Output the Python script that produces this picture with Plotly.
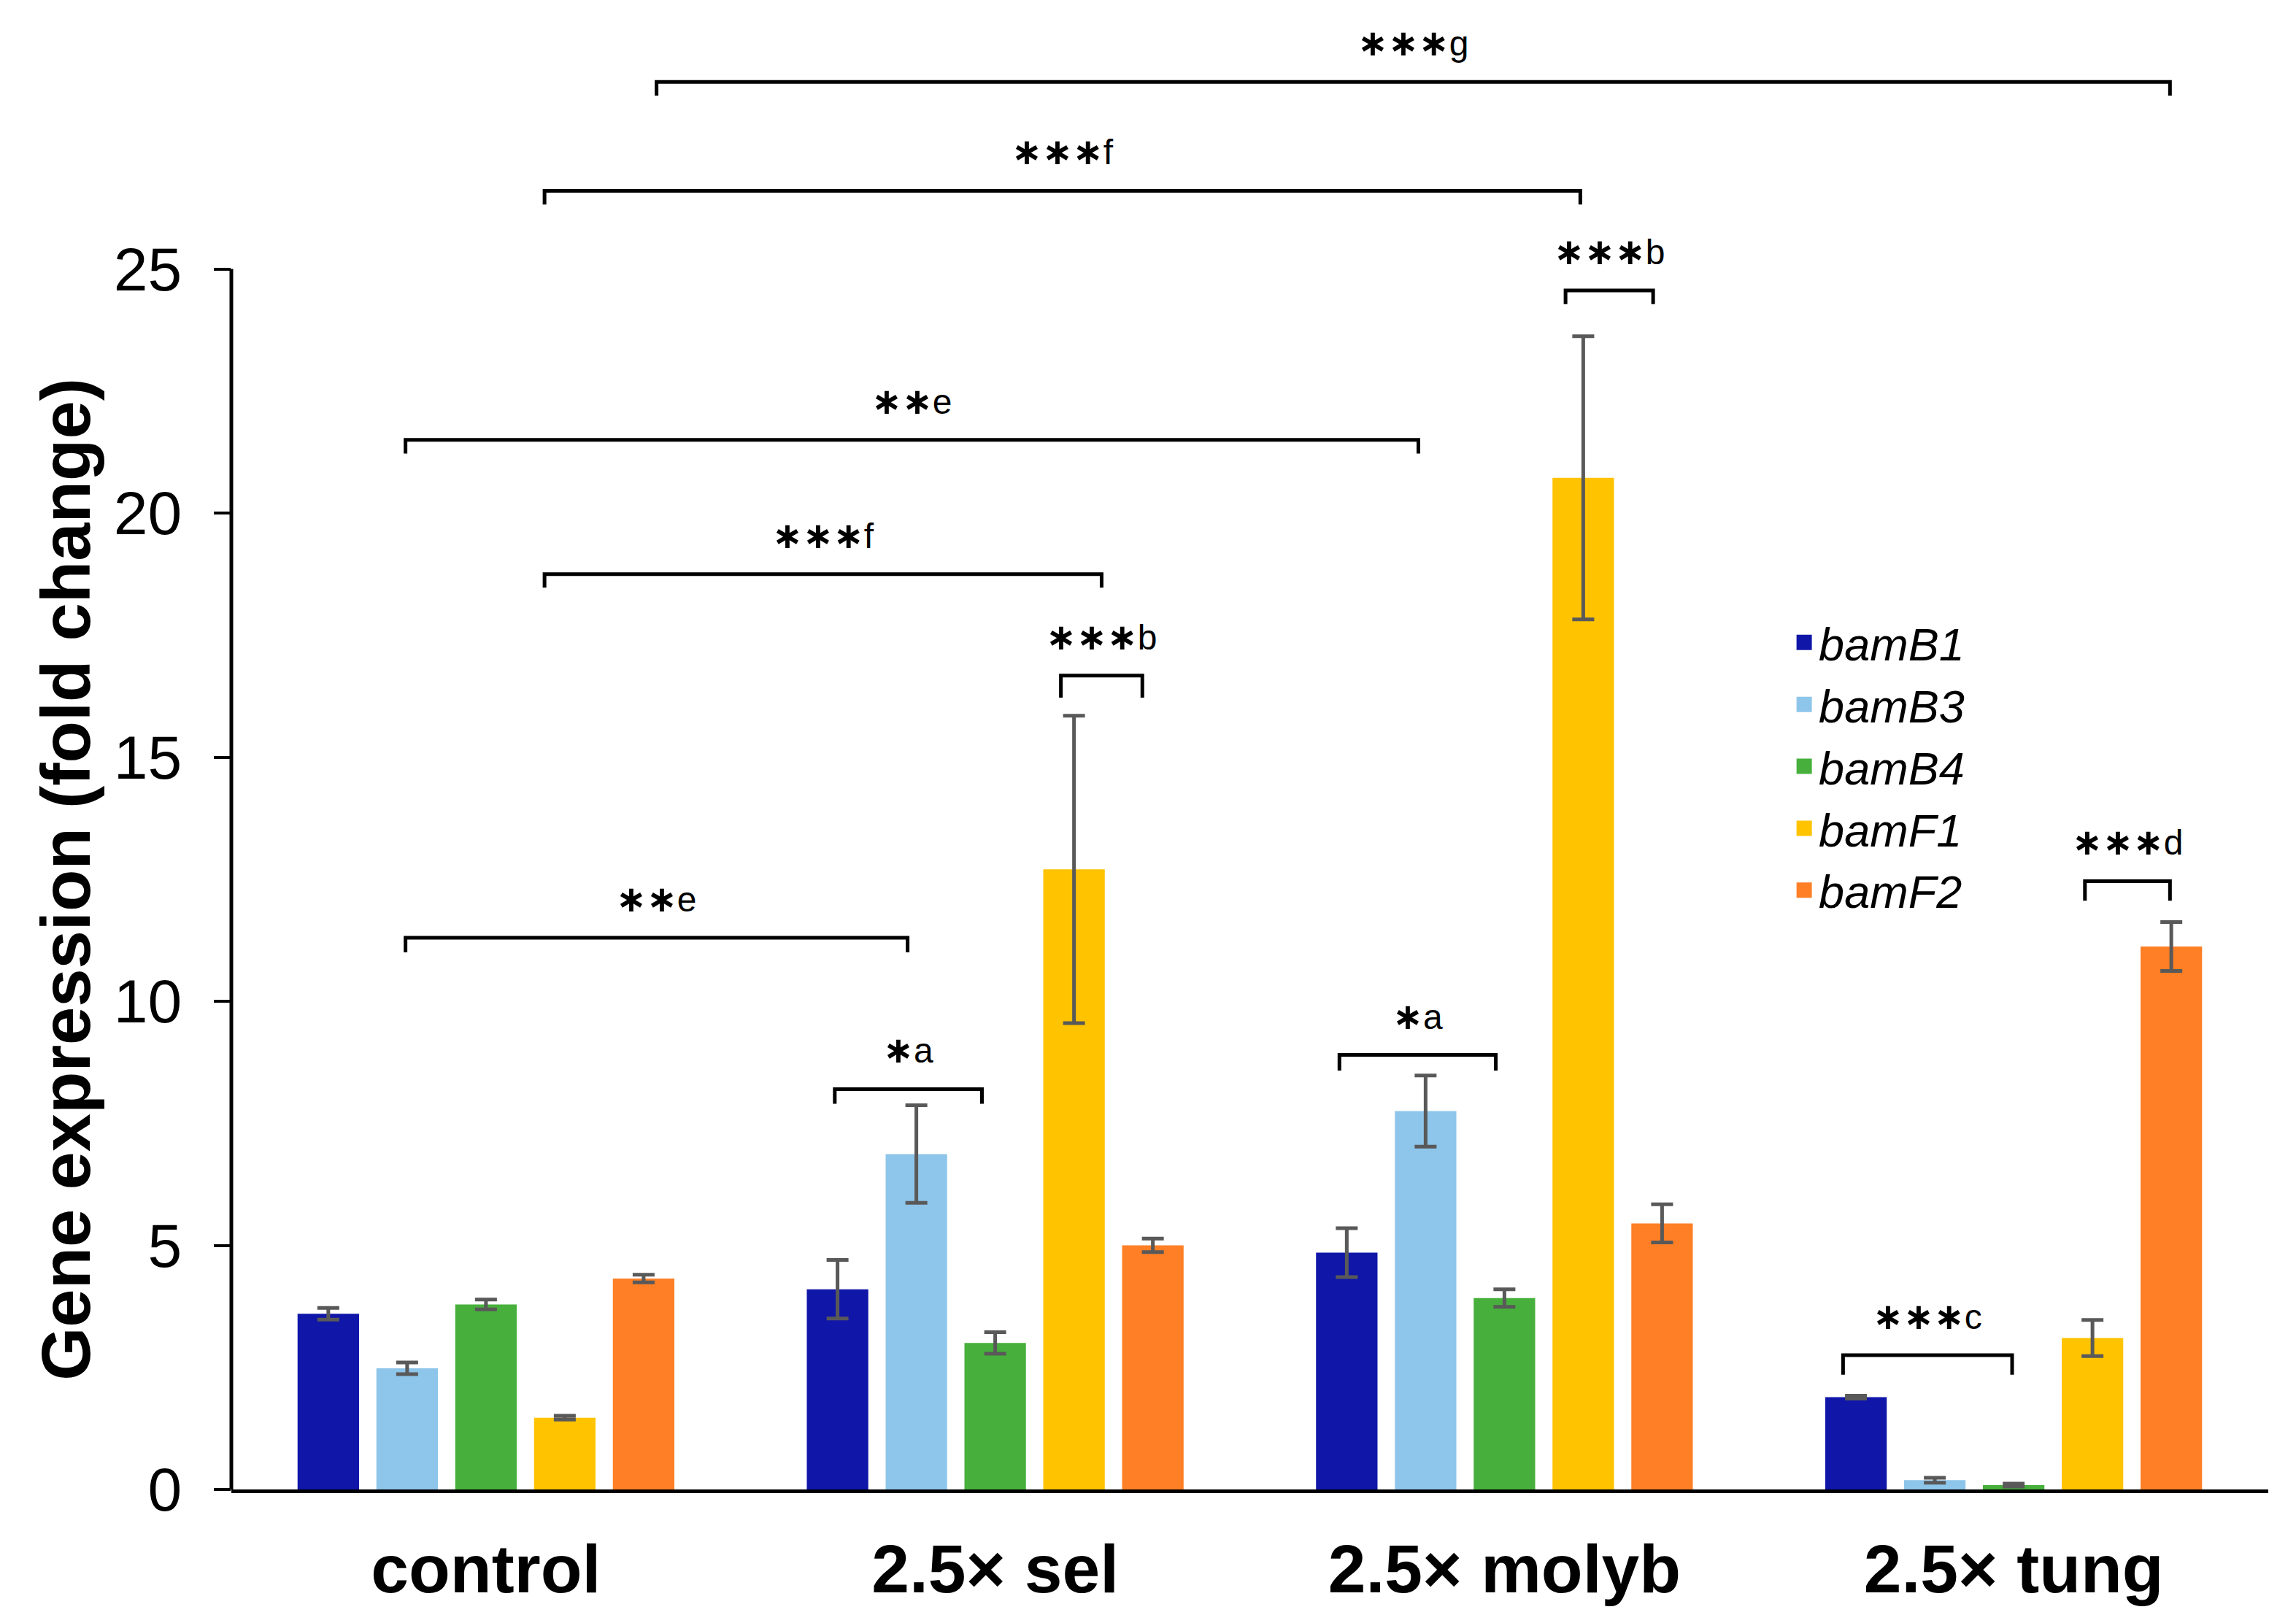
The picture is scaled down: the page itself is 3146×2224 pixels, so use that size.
import plotly.graph_objects as go

# ---------------- data ----------------
categories = ["control", "2.5× sel", "2.5× molyb", "2.5× tung"]
genes = ["bamB1", "bamB3", "bamB4", "bamF1", "bamF2"]

bamB1 = [3.60, 4.10, 4.85, 1.89]
bamB1_err = [0.12, 0.60, 0.50, 0.03]
bamB3 = [2.48, 6.87, 7.75, 0.19]
bamB3_err = [0.12, 1.00, 0.73, 0.05]
bamB4 = [3.79, 3.00, 3.92, 0.09]
bamB4_err = [0.10, 0.22, 0.18, 0.03]
bamF1 = [1.47, 12.70, 20.72, 3.10]
bamF1_err = [0.04, 3.15, 2.90, 0.37]
bamF2 = [4.32, 5.00, 5.45, 11.12]
bamF2_err = [0.08, 0.14, 0.39, 0.50]

y_ticks = [0, 5, 10, 15, 20, 25]
y_title = "Gene expression (fold change)"

# significance brackets: (x start, x end, bracket height, stars, letter)
sig_x0 = [0.335, 0.115, 2.120, -0.158, 0.115, 1.129, 3.140, -0.158, 0.685, 1.676, 2.665]
sig_x1 = [3.307, 2.149, 2.292, 1.831, 1.209, 1.289, 3.307, 0.828, 0.974, 1.983, 2.997]
sig_y = [28.83, 26.60, 24.56, 21.50, 18.75, 16.67, 12.46, 11.30, 8.20, 8.90, 2.75]
sig_drop = [0.28, 0.28, 0.28, 0.28, 0.28, 0.45, 0.40, 0.30, 0.30, 0.32, 0.40]
sig_stars = ["***", "***", "***", "**", "***", "***", "***", "**", "*", "*", "***"]
sig_letter = ["g", "f", "b", "e", "f", "b", "d", "e", "a", "a", "c"]

colors = ["#1016A8", "#8EC5EA", "#47B03C", "#FFC300", "#FE7F25"]

values = [bamB1, bamB3, bamB4, bamF1, bamF2]
errors = [bamB1_err, bamB3_err, bamB4_err, bamF1_err, bamF2_err]

FONT = "Liberation Sans, Arial, sans-serif"

fig = go.Figure()
for name, vals, errs, col in zip(genes, values, errors, colors):
    fig.add_trace(go.Bar(
        x=categories, y=vals, name=name, showlegend=False,
        marker=dict(color=col, line=dict(width=0)),
        error_y=dict(type="data", array=errs, visible=True,
                     color="#595959", thickness=5, width=15),
    ))

# legend entries (square swatches)
for name, col in zip(genes, colors):
    fig.add_trace(go.Scatter(
        x=[None], y=[None], mode="markers", name=name,
        marker=dict(symbol="square", size=16, color=col,
                    line=dict(width=5, color=col)),
        hoverinfo="skip",
    ))

shapes = []
annotations = []
for x0, x1, yb, dr, st, lt in zip(sig_x0, sig_x1, sig_y, sig_drop, sig_stars, sig_letter):
    shapes.append(dict(
        type="path", xref="x", yref="y",
        path=f"M {x0},{yb - dr} L {x0},{yb} L {x1},{yb} L {x1},{yb - dr}",
        line=dict(color="black", width=5),
    ))
    star_txt = "∗" * len(st)
    annotations.append(dict(
        x=(x0 + x1) / 2, y=yb, xref="x", yref="y",
        yanchor="bottom", xanchor="center", yshift=22, showarrow=False,
        text=(f'<span style="font-family:DejaVu Sans;font-weight:bold;font-size:50px">'
              f'{star_txt}</span>{lt}'),
        font=dict(family=FONT, size=48, color="black"),
    ))

# y axis line only spanning the tick range
shapes.append(dict(
    type="line", xref="paper", yref="y", x0=0, x1=0, y0=0, y1=y_ticks[-1],
    line=dict(color="black", width=5),
))

# y-axis title, centred on the tick range
annotations.append(dict(
    x=0, xref="paper", y=y_ticks[-1] / 2, yref="y",
    xanchor="center", yanchor="middle", xshift=-226, showarrow=False,
    textangle=-90, text=y_title,
    font=dict(family=FONT, size=94, color="black", weight="bold"),
))

fig.update_layout(
    width=3146, height=2224,
    margin=dict(l=309, r=46, t=26, b=191),
    paper_bgcolor="white", plot_bgcolor="white",
    barmode="group", bargap=0.226, bargroupgap=0.22,
    font=dict(family=FONT, color="black"),
    shapes=shapes, annotations=annotations,
    legend=dict(
        x=0.765, y=0.602, xanchor="left", yanchor="top",
        font=dict(family=FONT, size=63, color="black", style="italic"),
        tracegroupgap=0, itemwidth=30, bgcolor="rgba(0,0,0,0)",
    ),
    xaxis=dict(
        type="category", range=[-0.5, 3.5],
        showline=True, linecolor="black", linewidth=5,
        ticks="", showgrid=False, zeroline=False,
        tickfont=dict(family=FONT, size=93, color="black", weight="bold"),
        ticklabelstandoff=24,
    ),
    yaxis=dict(
        range=[0, 30], tickvals=y_ticks, ticktext=[str(v) for v in y_ticks],
        showline=False, showgrid=False, zeroline=False,
        ticks="outside", ticklen=23, tickwidth=4, tickcolor="black",
        tickfont=dict(family=FONT, size=84, color="black"),
        ticklabelstandoff=27,
    ),
)

fig.write_html("out.html")
